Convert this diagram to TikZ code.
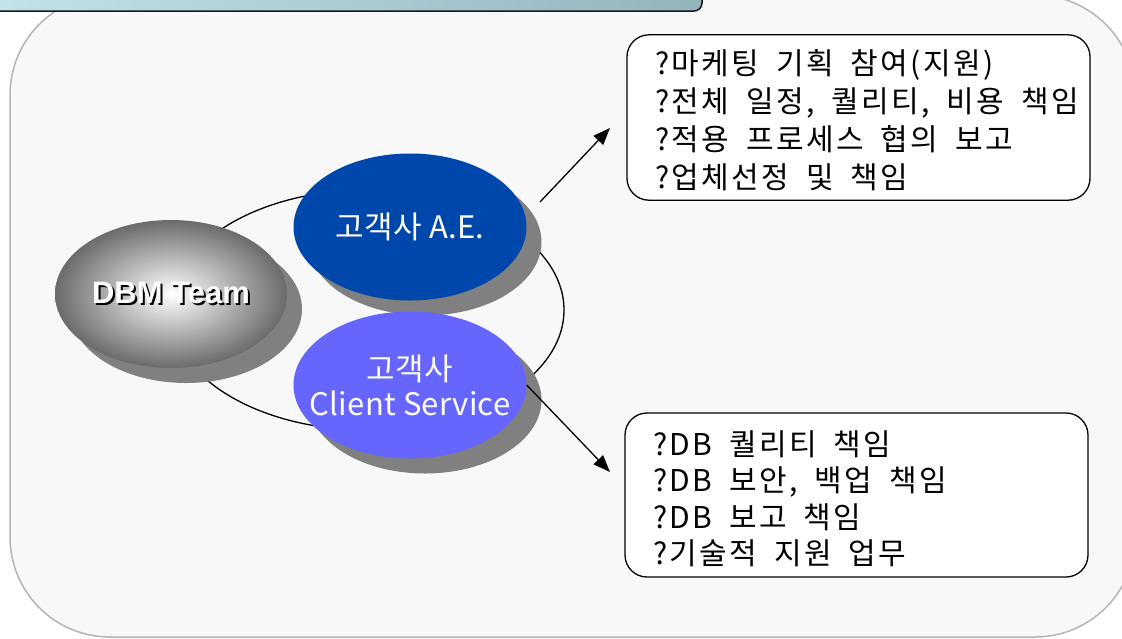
\documentclass[tikz,border=0pt]{standalone}
\usepackage{fontspec}
\usepackage{tikz}
\usetikzlibrary{arrows.meta,shapes.geometric,shadows,positioning}

\newfontfamily\krbox[LetterSpace=8]{Noto Sans CJK KR}
\newfontfamily\krblob[LetterSpace=1]{Noto Sans CJK KR}
\newfontfamily\dbmfont{Liberation Sans}
\definecolor{aeblue}{RGB}{0,71,171}
\definecolor{csblue}{RGB}{102,102,255}
\definecolor{shadowgray}{RGB}{128,128,128}
\definecolor{panelgray}{RGB}{248,248,248}
\definecolor{panelline}{RGB}{180,180,180}
\definecolor{barleft}{RGB}{192,228,234}
\definecolor{barright}{RGB}{148,180,188}

% white text with a dark cast shadow
\newcommand\shadowed[1]{\makebox[0pt][l]{\hspace{2pt}\raisebox{-2pt}{\color{black}#1}}{\color{white}#1}}
% duty list: wide word gaps, a little room on top
\newcommand\dutylist[3]{{\krbox\fontsize{30}{#1}\selectfont\spaceskip=17pt\relax
  \begin{tabular}{@{}l@{}}\rule{0pt}{#2}#3\end{tabular}}}

\begin{document}
\begin{tikzpicture}[x=1pt, y=-1pt, >={Triangle[length=17pt,width=13pt]},
    blob/.style={ellipse, inner xsep=-40pt, inner ysep=-15pt, minimum width=233pt, minimum height=147pt,
      drop shadow={shadow xshift=15pt, shadow yshift=-15pt, fill=shadowgray, opacity=1}},
    infobox/.style={draw, line width=1.3pt, fill=white, rounded corners=22pt,
      minimum width=463pt, inner xsep=28pt, inner ysep=0pt, text width=407pt, align=left},
    link/.style={->, line width=1.3pt}]
    \useasboundingbox (0,0) rectangle (1122,638);

    % background panel and title bar
    \draw[fill=panelgray, draw=panelline, line width=1.5pt, rounded corners=100pt] (10,-5) rectangle (1135,637);
    \draw[left color=barleft, right color=barright, draw=black!90, line width=1.5pt, rounded corners=8pt] (-10,-40) rectangle (702,11);

    % ring behind the three parties
    \draw[line width=1.3pt] (367,310) ellipse [x radius=197pt, y radius=120pt];

    \node[blob, minimum width=232pt, minimum height=148pt, shading=radial, inner color=white, outer color=black!58,
      font=\dbmfont\bfseries\fontsize{31}{36}\selectfont] (dbm) at (171,294) {\shadowed{DBM Team}}; %team
    \node[blob, fill=aeblue, text=white, font=\krblob\fontsize{31}{35}\selectfont] (ae) at (410,227) {고객사 A.E.}; %account exec
    \node[blob, fill=csblue, text=white, align=center, font=\krblob\fontsize{31}{35}\selectfont] (cs) at (410,385) {고객사\\Client Service}; %client service

    % duty boxes
    \node[infobox, minimum height=165pt] (aeduty) at (858.5,117.5)
      {\dutylist{38}{40pt}{?마케팅 기획 참여(지원)\\?전체 일정, 퀄리티, 비용 책임\\?적용 프로세스 협의 보고\\?업체선정 및 책임}};
    \node[infobox, minimum height=164pt] (csduty) at (856.5,495)
      {\dutylist{36.5}{41pt}{?DB 퀄리티 책임\\?DB 보안, 백업 책임\\?DB 보고 책임\\?기술적 지원 업무}};

    % arrows
    \coordinate (aetail) at (540,202);
    \coordinate (aehead) at (610,128);
    \coordinate (cshead) at (610,472);
    \draw[link] (aetail) -- (aehead);
    \draw[link] (cs.east) -- (cshead);
\end{tikzpicture}
\end{document}
